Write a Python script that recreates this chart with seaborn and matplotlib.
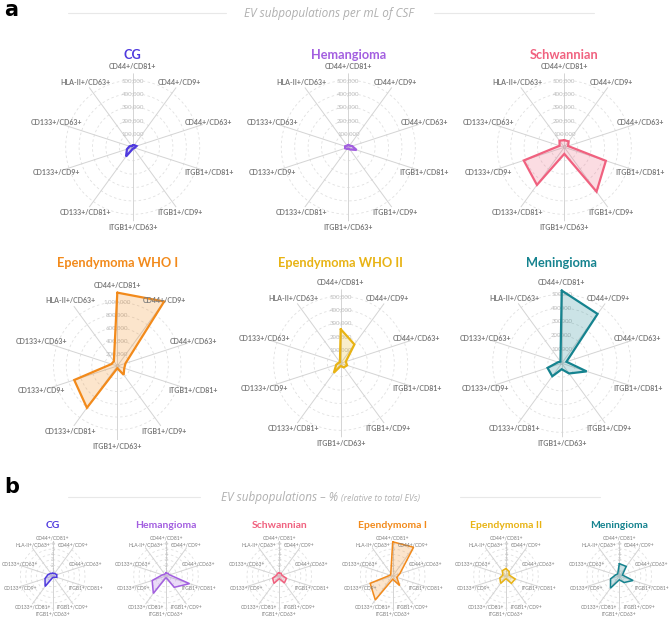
import numpy as np
import matplotlib
matplotlib.use("Agg")
import matplotlib.pyplot as plt
import seaborn as sns

# ---- data ----
categories = ["CD44+/CD81+", "CD44+/CD9+", "CD44+/CD63+", "ITGB1+/CD81+", "ITGB1+/CD9+",
              "ITGB1+/CD63+", "CD133+/CD81+", "CD133+/CD9+", "CD133+/CD63+", "HLA-II+/CD63+"]

names_a = ["CG", "Hemangioma", "Schwannian", "Ependymoma WHO I", "Ependymoma WHO II", "Meningioma"]
names_b = ["CG", "Hemangioma", "Schwannian", "Ependymoma I", "Ependymoma II", "Meningioma"]
colors = ["#4f3ade", "#a35fe0", "#f0617f", "#f28a1b", "#e8b314", "#15838f"]

# EV subpopulations per mL of CSF
cg_ml = [15000, 20000, 30000, 15000, 10000, 12000, 85000, 45000, 25000, 12000]
hem_ml = [18000, 15000, 30000, 65000, 20000, 10000, 15000, 25000, 25000, 15000]
schw_ml = [53000, 55000, 30000, 326000, 409000, 49000, 347000, 318000, 37000, 61000]
ep1_ml = [1150000, 1250000, 135000, 115000, 170000, 36000, 810000, 710000, 97000, 92000]
ep2_ml = [255000, 174000, 40000, 50000, 38000, 20000, 88000, 35000, 15000, 10000]
men_ml = [527000, 442000, 36000, 190000, 91000, 43000, 116000, 108000, 27000, 15000]

# EV subpopulations, % of total EVs
cg_pct = [0.5, 0.6, 0.8, 0.8, 0.3, 0.3, 2.4, 1.5, 0.9, 0.6]
hem_pct = [0.6, 0.6, 0.7, 4.6, 2.6, 0.3, 4.0, 2.7, 0.7, 0.4]
schw_pct = [0.6, 0.6, 0.5, 1.4, 1.6, 0.5, 1.7, 1.3, 0.5, 0.6]
ep1_pct = [6.35, 6.6, 1.4, 0.8, 2.2, 0.6, 5.5, 4.4, 0.5, 0.6]
ep2_pct = [1.4, 1.0, 0.6, 1.8, 1.7, 0.5, 1.7, 1.2, 0.6, 1.2]
men_pct = [2.3, 2.2, 0.6, 2.7, 1.5, 0.7, 2.8, 1.7, 0.7, 0.5]

ticks_std = [100000, 200000, 300000, 400000, 500000]
ticks_ep1 = [200000, 400000, 600000, 800000, 1000000]
ticks_pct = [1, 2, 3, 4, 5, 6]

W, H = 669, 621
sns.set_style("white")
plt.rcParams["font.family"] = ["Lato", "DejaVu Sans"]

fig = plt.figure(figsize=(W / 100, H / 100), dpi=100)
theta = np.arange(len(categories)) * 2 * np.pi / len(categories)


def radar(cx, cy, R, rmax, vals, color, ticks, tlabels, lab_a, lab_b, fs_lab, fs_tick, lw,
          lab_weight, title, title_y, title_fs):
    ax = fig.add_axes([(cx - R) / W, 1 - (cy + R) / H, 2 * R / W, 2 * R / H],
                      projection="polar")
    ax.set_theta_zero_location("N")
    ax.set_theta_direction(-1)
    ax.grid(False)
    ax.spines["polar"].set_visible(False)
    ax.set_xticks([])
    ax.set_yticks([])
    ax.set_facecolor("none")

    circ = np.linspace(0, 2 * np.pi, 200)
    for t in ticks:
        ax.plot(circ, [t] * len(circ), color="#e0e0e0", lw=0.6, ls=(0, (3, 3)), zorder=1)
    for th in theta:
        ax.plot([th, th], [0, rmax], color="#d4d4d4", lw=0.7, zorder=1)
    for t, tl in zip(ticks, tlabels):
        ax.text(0, t, tl, ha="center", va="center", fontsize=fs_tick, color="#bdbdbd", zorder=2)

    th_c = np.append(theta, 2 * np.pi)
    v_c = np.append(vals, vals[0])
    sns.lineplot(x=th_c, y=v_c, ax=ax, sort=False, color=color, lw=lw, zorder=4)
    for ln in ax.lines[-1:]:
        ln.set_clip_on(False)
        ln.set_solid_joinstyle("miter")
    ax.fill(th_c, v_c, color=color, alpha=0.22, lw=0, zorder=3, clip_on=False)
    ax.set_ylim(0, rmax)
    ax.set_xlabel("")
    ax.set_ylabel("")

    # point labels, placed in pixel space round the centre
    for th, cat in zip(theta, categories):
        px = cx + lab_a * np.sin(th)
        py = cy - lab_b * np.cos(th)
        fig.text(px / W, 1 - py / H, cat, ha="center", va="center", fontsize=fs_lab,
                 color="#7a7a7a", fontweight=lab_weight)

    fig.text(cx / W, 1 - title_y / H, title, ha="center", va="center", fontsize=title_fs,
             color=color, fontweight="bold")
    return ax


# ---- panel a ----
centers_a = [(132.7, 147.3), (348.3, 147.3), (564.3, 147.3),
             (117.3, 366.0), (340.7, 363.3), (561.7, 363.3)]
data_a = [cg_ml, hem_ml, schw_ml, ep1_ml, ep2_ml, men_ml]
for i, (name, vals) in enumerate(zip(names_a, data_a)):
    cx, cy = centers_a[i]
    if i == 3:
        ticks, rmax = ticks_ep1, 1160000
    elif i == 5:
        ticks, rmax = ticks_std, 536000
    else:
        ticks, rmax = ticks_std, 552000
    if i == 5:
        tl = [str(t) for t in ticks]
    else:
        tl = [f"{t:,}" for t in ticks]
    radar(cx, cy, 74, rmax, vals, colors[i], [0] + ticks, ["0"] + tl, 80, 80.5, 5.0, 4.4, 1.6,
          "bold", name, 55 if i < 3 else 263, 9.2)

# ---- panel b ----
xs_b = [52.7, 166.0, 279.3, 392.7, 506.0, 619.3]
data_b = [cg_pct, hem_pct, schw_pct, ep1_pct, ep2_pct, men_pct]
for i, (name, vals) in enumerate(zip(names_b, data_b)):
    radar(xs_b[i], 576, 35, 6.5, vals, colors[i], ticks_pct, [str(t) for t in ticks_pct],
          34.3, 38.0, 3.55, 3.6, 1.1, "normal", name, 525, 7.5)

# ---- headers ----
fig.text(11 / W, 1 - 10 / H, "a", ha="center", va="center", fontsize=15, fontweight="bold",
         color="black", family=["DejaVu Sans"])
fig.text(12 / W, 1 - 487 / H, "b", ha="center", va="center", fontsize=15, fontweight="bold",
         color="black", family=["DejaVu Sans"])

hdr_font = ["Open Sans", "DejaVu Sans"]
fig.text(329 / W, 1 - 13.5 / H, "EV subpopulations per mL of CSF", ha="center", va="center",
         fontsize=8.5, style="italic", color="#b0b0b0", family=hdr_font)
fig.text(338 / W, 1 - 498 / H, "EV subpopulations \u2013 %", ha="right", va="center",
         fontsize=8.5, style="italic", color="#b0b0b0", family=hdr_font)
fig.text(341 / W, 1 - 498.5 / H, "(relative to total EVs)", ha="left", va="center",
         fontsize=6.3, style="italic", color="#b0b0b0", family=hdr_font)

for x0, x1, y in [(68, 226, 13), (434, 594, 13), (68, 200, 497), (460, 600, 497)]:
    fig.add_artist(plt.Line2D([x0 / W, x1 / W], [1 - y / H, 1 - y / H], color="#e8e8e8", lw=0.8))

fig.savefig("out.png", dpi=100)
